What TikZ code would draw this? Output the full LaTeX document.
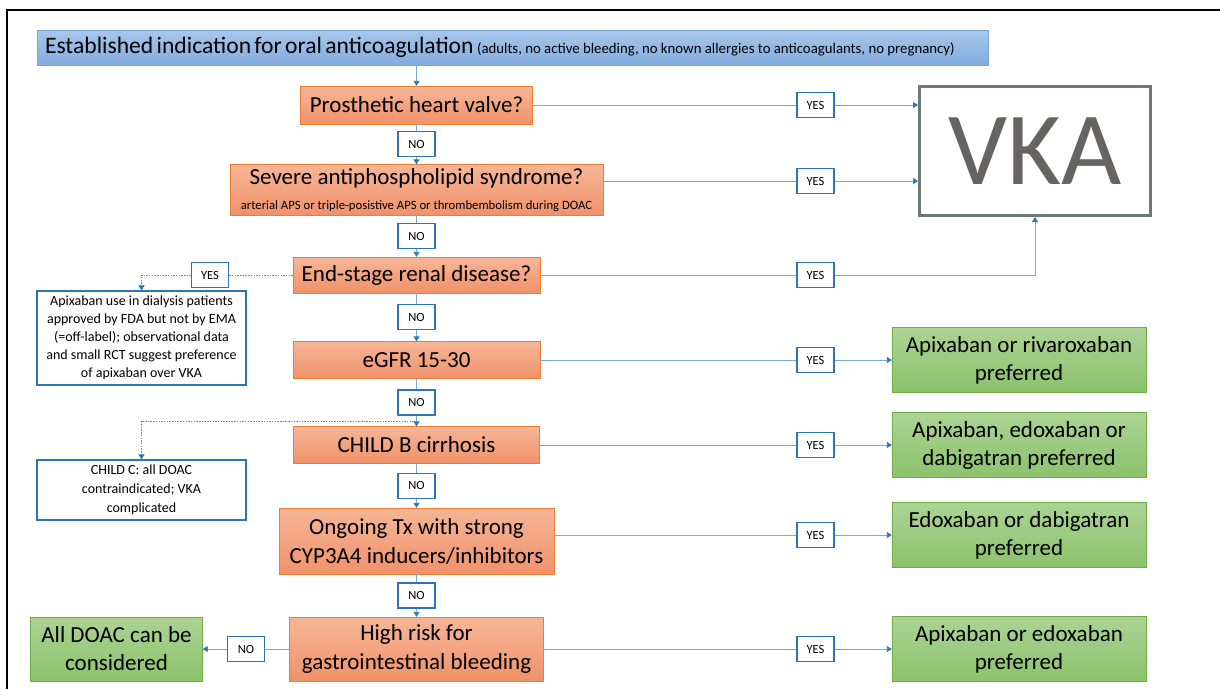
\documentclass[tikz,border=0pt]{standalone}
\usepackage{fontspec}
\setmainfont{Carlito}
\usepackage{tikz}
\usetikzlibrary{arrows.meta,calc,positioning}
\definecolor{lineblue}{RGB}{120,172,218}
\definecolor{tipblue}{RGB}{40,120,190}
\definecolor{boxblue}{RGB}{46,117,182}
\definecolor{hdrtop}{RGB}{168,199,235}
\definecolor{hdrbot}{RGB}{130,172,222}
\definecolor{hdrline}{RGB}{120,165,215}
\definecolor{qtop}{RGB}{246,182,152}
\definecolor{qbot}{RGB}{240,146,106}
\definecolor{qline}{RGB}{237,125,49}
\definecolor{gtop}{RGB}{172,211,148}
\definecolor{gbot}{RGB}{140,194,108}
\definecolor{gline}{RGB}{112,173,71}
\definecolor{vkaline}{RGB}{110,120,120}
\definecolor{vkatext}{RGB}{104,99,99}
\tikzset{
  node distance=85pt,
  hdr/.style={draw=hdrline,top color=hdrtop,bottom color=hdrbot,minimum height=35pt,
    text width=935pt,inner xsep=8pt,inner ysep=0pt,align=left},
  qbox/.style={draw=qline,top color=qtop,bottom color=qbot,inner sep=0pt,align=center,
    font=\fontsize{23}{29}\selectfont},
  gbox/.style={draw=gline,top color=gtop,bottom color=gbot,minimum width=254pt,
    minimum height=65pt,inner sep=0pt,align=center,font=\fontsize{23}{28}\selectfont},
  yn/.style={draw=boxblue,fill=white,line width=1.2pt,minimum width=37pt,minimum height=25pt,
    inner sep=0pt,font=\fontsize{12.5}{14}\selectfont},
  sidenote/.style={draw=boxblue,fill=white,line width=1.2pt,minimum width=209pt,inner sep=0pt,
    align=center,font=\fontsize{14}{18}\selectfont},
  conn/.style={draw=lineblue,line width=0.9pt},
  dconn/.style={draw=tipblue!80,line width=0.9pt,dash pattern=on 1.5pt off 1.2pt}
}

\begin{document}
\begin{tikzpicture}[x=1pt,y=-1pt]
  \useasboundingbox (0,0) rectangle (1220,689);
  \draw[line width=1.5pt] (7,689) -- (7,10) -- (1220,10);

  \begin{scope}
    \node[hdr] (ind) at (512.5,47.5) {\fontsize{23.6}{26}\selectfont Established indication for oral anticoagulation
      {\fontsize{14.8}{16}\selectfont (adults, no active bleeding, no known allergies to anticoagulants, no pregnancy)}};

    \node[qbox,minimum width=232pt,minimum height=38pt] (valve) at (416.5,105) {Prosthetic heart valve?};
    \node[qbox,minimum width=373pt,minimum height=51pt] (aps) [below of=valve]
      {{\fontsize{23}{26}\selectfont Severe antiphospholipid syndrome?}\\[-4pt]
       {\fontsize{12.7}{14}\selectfont arterial APS or triple-posistive APS or thrombembolism during DOAC}};
    \node[qbox,minimum width=247pt,minimum height=36pt] (esrd) [below of=aps] {End-stage renal disease?};
    \node[qbox,minimum width=247pt,minimum height=37pt] (egfr) [below of=esrd] {eGFR 15-30};
    \node[qbox,minimum width=246pt,minimum height=37pt] (childb) [below of=egfr] {CHILD B cirrhosis};
    \node[qbox,minimum width=275pt,minimum height=66pt] (cyp) [below of=childb,node distance=96pt]
      {Ongoing Tx with strong\\CYP3A4 inducers/inhibitors};
    \node[qbox,minimum width=254pt,minimum height=64pt] (gib) [below of=cyp,node distance=108pt]
      {High risk for\\gastrointestinal bleeding};

    \node[draw=vkaline,line width=3pt,minimum width=231pt,minimum height=129pt,inner sep=0pt,
      text=vkatext,font=\fontsize{104}{106}\selectfont] (vka) at (1035,151) {VKA};

    \node[yn] (yv1) [right of=valve,node distance=399pt] {YES};
    \node[yn] (yv2) [right of=aps,node distance=399pt,yshift=9pt] {YES};
    \node[yn] (yv3) [right of=esrd,node distance=399pt] {YES};
    \node[yn] (yr4) [right of=egfr,node distance=399pt] {YES};
    \node[yn] (yr5) [right of=childb,node distance=399pt] {YES};
    \node[yn] (yr6) [right of=cyp,node distance=399pt,yshift=6pt] {YES};
    \node[yn] (yr7) [right of=gib,node distance=399pt] {YES};

    \node[gbox] (rivaro) [right of=yr4,node distance=203.5pt] {Apixaban or rivaroxaban\\preferred};
    \node[gbox] (edoxdab) [right of=yr5,node distance=203.5pt] {Apixaban, edoxaban or\\dabigatran preferred};
    \node[gbox] (dabig) [right of=yr6,node distance=203.5pt] {Edoxaban or dabigatran\\preferred};
    \node[gbox] (edox) [right of=yr7,node distance=203.5pt] {Apixaban or edoxaban\\preferred};

    \node[yn] (yl3) [left of=esrd,node distance=206.5pt] {YES};
    \node[sidenote,minimum height=94pt] (dialysis) at (141.5,338)
      {Apixaban use in dialysis patients\\approved by FDA but not by EMA\\(=off-label); observational data\\and small RCT suggest preference\\of apixaban over VKA};
    \node[sidenote,minimum height=60pt,font=\fontsize{14}{19}\selectfont] (childc) at (141.5,490)
      {CHILD C: all DOAC\\contraindicated; VKA\\complicated};
    \node[gbox,minimum width=172pt,minimum height=64pt] (alldoac) [left of=gib,node distance=300pt]
      {All DOAC can be\\considered};
  \end{scope}

  \begin{scope}[>={Triangle[length=5pt,width=6pt,color=tipblue]},
                every edge/.style={conn}]
    \path [->] (valve |- ind.south) edge (valve);
    \path [->] (valve) edge node[yn] (no1) {NO} (aps);
    \path [->] (aps) edge node[yn] (no2) {NO} (esrd);
    \path [->] (esrd) edge node[yn] (no3) {NO} (egfr);
    \path [->] (egfr) edge node[yn] (no4) {NO} (childb);
    \path [->] (childb) edge node[yn] (no5) {NO} (cyp);
    \path [->] (cyp) edge node[yn] (no6) {NO} (gib);
    \path [->] (gib) edge node[yn] (no7) {NO} (alldoac);

    \path [->] (valve) edge[-] (yv1) (yv1) edge (vka.west |- yv1);
    \path [->] (aps.east |- yv2) edge[-] (yv2) (yv2) edge (vka.west |- yv2);
    \draw [conn,->] (esrd) -- (yv3) -- (vka.south |- yv3) -- (vka.south);

    \path [->] (egfr) edge[-] (yr4) (yr4) edge (rivaro);
    \path [->] (childb) edge[-] (yr5) (yr5) edge (edoxdab);
    \path [->] (cyp.east |- yr6) edge[-] (yr6) (yr6) edge (dabig);
    \path [->] (gib) edge[-] (yr7) (yr7) edge (edox);

    % dotted side branches
    \draw [dconn,->] (esrd) -- (yl3) -- (dialysis.north |- yl3) -- (dialysis.north);
    \coordinate (split) at ($(no4.south)!0.5!(childb.north)$);
    \draw [dconn,->] (split) -- (split -| childc.north) -- (childc.north);
  \end{scope}
\end{tikzpicture}
\end{document}
